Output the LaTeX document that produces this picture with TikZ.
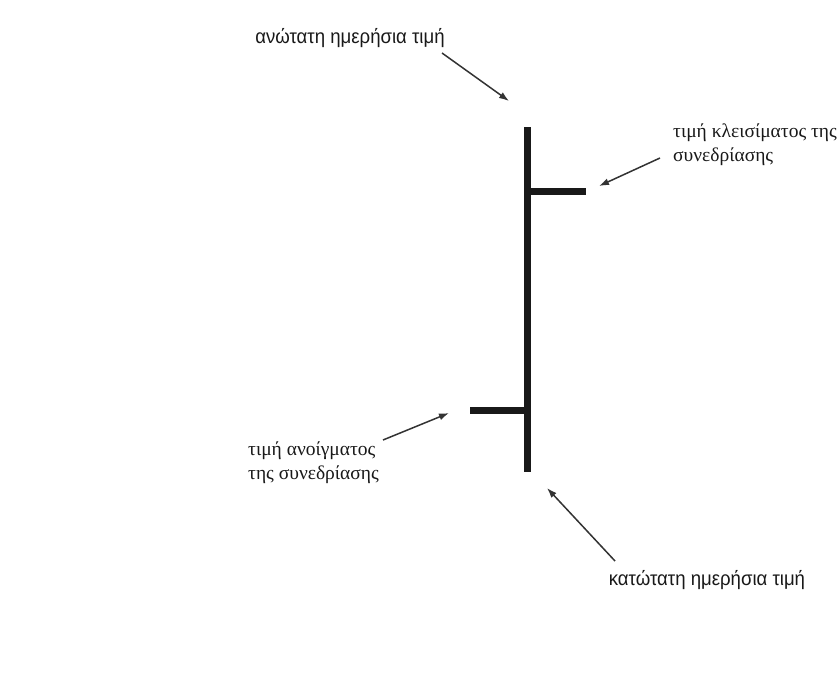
\documentclass[tikz,border=0pt]{standalone}
\usepackage{fontspec}
\setmainfont{Liberation Serif}
\newfontfamily\lblsans{Liberation Sans}
\usetikzlibrary{arrows.meta}
\tikzset{
  barline/.style={line width=7pt, black!90, line cap=butt},
  pointer/.style={line width=1.5pt, black!80, -{Latex[length=10pt,width=7pt]}},
  sanslabel/.style={font=\lblsans\fontsize{20}{24}\selectfont, inner sep=0pt, text=black!90, xscale=0.93},
  seriflabel/.style={font=\fontsize{19.5}{24}\selectfont, inner sep=0pt, text=black!90, align=left}
}
\begin{document}
\begin{tikzpicture}[x=1pt,y=-1pt]
\useasboundingbox (0,0) rectangle (840,683);
% chart bar
\coordinate (hi) at (527,127);
\coordinate (lo) at (527,472);
\coordinate (cl) at (586,191);
\coordinate (clb) at (524,191);
\coordinate (op) at (470,410);
\coordinate (opb) at (530,410);
\draw[barline] (hi) -- (lo);
\draw[barline] (clb) -- (cl);
\draw[barline] (op) -- (opb);
% labels
\node[sanslabel] (top) at (350,38) {ανώτατη ημερήσια τιμή};
\node[seriflabel, anchor=west] (close) at (673,145) {τιμή κλεισίματος της\\συνεδρίασης};
\node[seriflabel, anchor=west] (open) at (248,463) {τιμή ανοίγματος\\της συνεδρίασης};
\node[sanslabel] (bottom) at (707,580) {κατώτατη ημερήσια τιμή};
% arrow ends
\coordinate (a1s) at (442,53);
\coordinate (a1e) at (509,101);
\coordinate (a2s) at (660,158);
\coordinate (a2e) at (599,186);
\coordinate (a3s) at (383,440);
\coordinate (a3e) at (449,413);
\coordinate (a4s) at (615,561);
\coordinate (a4e) at (547,488);
\draw[pointer] (a1s) -- (a1e);
\draw[pointer] (a2s) -- (a2e);
\draw[pointer] (a3s) -- (a3e);
\draw[pointer] (a4s) -- (a4e);
\end{tikzpicture}
\end{document}
